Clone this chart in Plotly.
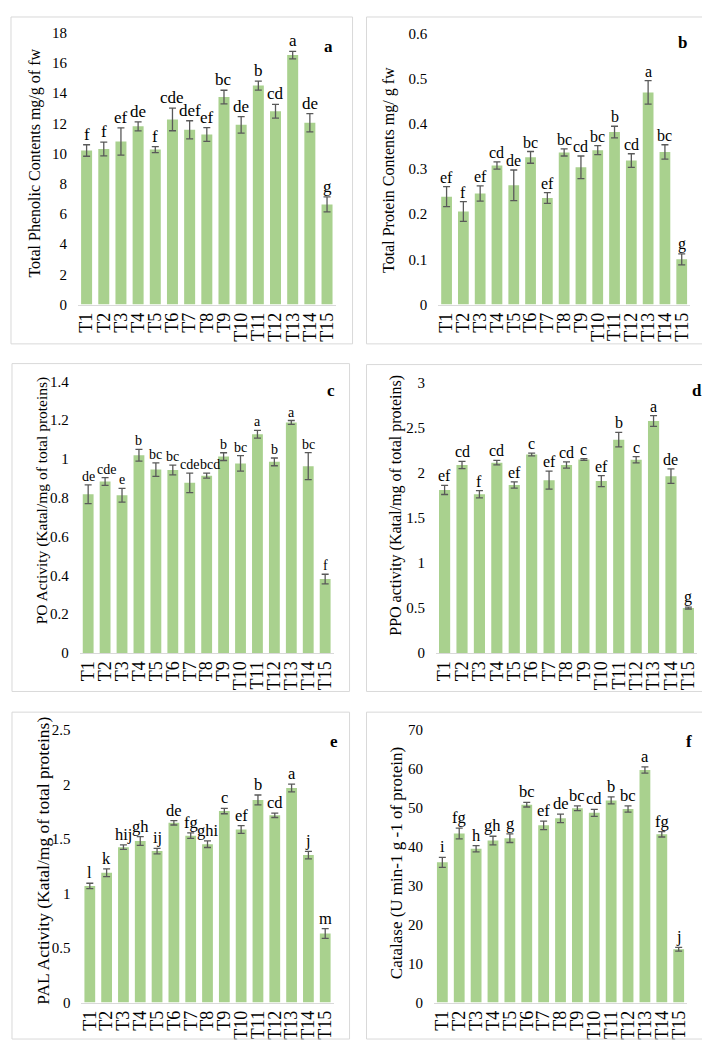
import plotly.graph_objects as go

W, H = 710, 1042

treatments = ["T1", "T2", "T3", "T4", "T5", "T6", "T7", "T8", "T9", "T10",
              "T11", "T12", "T13", "T14", "T15"]

phenolic = [10.2, 10.3, 10.8, 11.8, 10.26, 12.26, 11.57, 11.26, 13.74, 11.9,
            14.5, 12.8, 16.52, 12.04, 6.63]
phenolic_err = [0.38, 0.45, 0.9, 0.3, 0.2, 0.75, 0.6, 0.45, 0.45, 0.55,
                0.3, 0.45, 0.25, 0.6, 0.5]
phenolic_grp = ["f", "f", "ef", "de", "f", "cde", "def", "ef", "bc", "de",
                "b", "cd", "a", "de", "g"]

protein = [0.239, 0.206, 0.246, 0.308, 0.264, 0.326, 0.236, 0.337, 0.304, 0.342,
           0.382, 0.319, 0.47, 0.338, 0.1]
protein_err = [0.022, 0.022, 0.017, 0.008, 0.034, 0.013, 0.012, 0.008, 0.025, 0.01,
               0.013, 0.015, 0.026, 0.016, 0.012]
protein_grp = ["ef", "f", "ef", "cd", "de", "bc", "ef", "bc", "cd", "bc",
               "b", "cd", "a", "bc", "g"]

po = [0.818, 0.884, 0.813, 1.019, 0.945, 0.943, 0.877, 0.914, 1.012, 0.977,
      1.127, 0.985, 1.188, 0.963, 0.381]
po_err = [0.048, 0.02, 0.035, 0.03, 0.035, 0.025, 0.05, 0.013, 0.02, 0.04,
          0.02, 0.02, 0.01, 0.07, 0.025]
po_grp = ["de", "cde", "e", "b", "bc", "bc", "cde", "bcd", "b", "bc",
          "a", "b", "a", "bc", "f"]

ppo = [1.807, 2.084, 1.76, 2.109, 1.862, 2.2, 1.916, 2.084, 2.145, 1.905,
       2.364, 2.142, 2.571, 1.96, 0.498]
ppo_err = [0.05, 0.04, 0.04, 0.025, 0.035, 0.015, 0.1, 0.035, 0.01, 0.06,
           0.08, 0.035, 0.06, 0.08, 0.01]
ppo_grp = ["ef", "cd", "f", "cd", "ef", "c", "ef", "cd", "c", "ef",
           "b", "c", "a", "de", "g"]

pal = [1.069, 1.19, 1.425, 1.482, 1.389, 1.648, 1.53, 1.452, 1.756, 1.587,
       1.858, 1.717, 1.967, 1.352, 0.633]
pal_err = [0.025, 0.035, 0.02, 0.04, 0.025, 0.02, 0.025, 0.03, 0.025, 0.035,
           0.045, 0.02, 0.035, 0.035, 0.045]
pal_grp = ["l", "k", "hij", "gh", "ij", "de", "fg", "ghi", "c", "ef",
           "b", "cd", "a", "j", "m"]

catalase = [36.0, 43.4, 39.5, 41.6, 42.2, 50.8, 45.5, 47.3, 49.9, 48.7,
            51.9, 49.7, 59.7, 43.2, 13.7]
catalase_err = [1.3, 1.4, 0.8, 1.1, 1.1, 0.6, 1.1, 1.1, 0.6, 0.9,
                0.9, 0.8, 0.8, 0.7, 0.5]
catalase_grp = ["i", "fg", "h", "gh", "g", "bc", "ef", "de", "bc", "cd",
                "b", "bc", "a", "fg", "j"]

y_titles = ["Total Phenolic Contents mg/g of fw",
            "Total Protein Contents mg/ g fw",
            "PO Activity (Katal/mg of total proteins)",
            "PPO activity (Katal/mg of total proteins)",
            "PAL Activity (Katal/mg of total proteins)",
            "Catalase (U min-1 g -1 of protein)"]
panel_letters = ["a", "b", "c", "d", "e", "f"]
y_max = [18, 0.6, 1.4, 3, 2.5, 70]
y_dtick = [2, 0.1, 0.2, 0.5, 0.5, 10]

series = [(phenolic, phenolic_err, phenolic_grp),
          (protein, protein_err, protein_grp),
          (po, po_err, po_grp),
          (ppo, ppo_err, ppo_grp),
          (pal, pal_err, pal_grp),
          (catalase, catalase_err, catalase_grp)]

# layout geometry in pixels
plot_px = [  # x0, x1, ytop, ybottom
    (68.3, 327, 17, 293),
    (430, 683, 18, 293),
    (70, 325, 371, 647),
    (427.7, 690, 372, 647),
    (71.7, 325, 725, 1002),
    (425.7, 680, 725, 1002),
]
box_px = [  # x0, x1, ytop, ybottom
    (1, 344, 1, 333),
    (358, 700, 1, 333),
    (2, 341, 353, 686),
    (358, 699, 354, 686),
    (2, 341, 707, 1039),
    (358, 698, 707, 1039),
]
title_px = [(25, 149), (380, 156), (33, 492), (388, 497), (33, 858), (388, 860)]
title_size = [16, 16, 15.5, 16, 17.5, 17]
label_size = [17, 16, 14, 16, 16.5, 16.5]
letter_px = [(320, 31), (675, 27), (322, 380), (690, 380), (325, 737), (682, 737)]
# small horizontal nudges (px) for crowded significance letters
label_nudge = {(2, "T2"): 1, (2, "T8"): 3}

BAR = "#a9d18e"
ERR = "#595959"
FONT = "Liberation Serif"

fig = go.Figure()
layout = dict(width=W, height=H, margin=dict(l=0, r=0, t=0, b=0),
              paper_bgcolor="white", plot_bgcolor="white", showlegend=False,
              bargap=0.36, font=dict(family=FONT, color="black"))
annotations = []
shapes = []

for i, (vals, errs, grps) in enumerate(series):
    n = "" if i == 0 else str(i + 1)
    xa, ya = "x" + n, "y" + n
    fig.add_trace(go.Bar(x=treatments, y=vals, marker=dict(color=BAR, line=dict(width=0)),
                         error_y=dict(type="data", array=errs, visible=True,
                                      color=ERR, thickness=1.3, width=3.5),
                         xaxis=xa, yaxis=ya))
    for t, v, e, g in zip(treatments, vals, errs, grps):
        annotations.append(dict(text=g, x=t, y=v + e, xref=xa, yref=ya,
                                showarrow=False, xanchor="center", yanchor="bottom",
                                xshift=label_nudge.get((i, t), 0), yshift=0,
                                borderpad=0,
                                font=dict(family=FONT, size=label_size[i], color="black")))
    x0, x1, yt, yb = plot_px[i]
    layout["xaxis" + n] = dict(domain=[x0 / W, x1 / W], anchor=ya,
                               tickmode="array", tickvals=treatments, ticktext=treatments,
                               tickangle=-90, showline=True, linecolor="#d9d9d9",
                               linewidth=1, ticks="", showgrid=False,
                               tickfont=dict(family=FONT, size=18, color="black"),
                               fixedrange=True)
    layout["yaxis" + n] = dict(domain=[1 - yb / H, 1 - yt / H], anchor=xa,
                               range=[0, y_max[i]], dtick=y_dtick[i],
                               showgrid=False, zeroline=False, showline=False,
                               ticks="", ticklabelstandoff=10,
                               tickfont=dict(family=FONT, size=15, color="black"))
    tx, ty = title_px[i]
    annotations.append(dict(text=y_titles[i], x=tx / W, y=1 - ty / H,
                            xref="paper", yref="paper", textangle=-90,
                            showarrow=False, xanchor="center", yanchor="middle",
                            font=dict(family=FONT, size=title_size[i], color="black")))
    lx, ly = letter_px[i]
    annotations.append(dict(text="<b>" + panel_letters[i] + "</b>", x=lx / W, y=1 - ly / H,
                            xref="paper", yref="paper", showarrow=False,
                            xanchor="center", yanchor="middle",
                            font=dict(family=FONT, size=17, color="black")))
    bx0, bx1, byt, byb = box_px[i]
    shapes.append(dict(type="rect", xref="paper", yref="paper",
                       x0=bx0 / W, x1=bx1 / W, y0=1 - byb / H, y1=1 - byt / H,
                       line=dict(color="#d9d9d9", width=1), fillcolor="rgba(0,0,0,0)"))

layout["annotations"] = annotations
layout["shapes"] = shapes
fig.update_layout(**layout)
fig.write_html("out.html")
